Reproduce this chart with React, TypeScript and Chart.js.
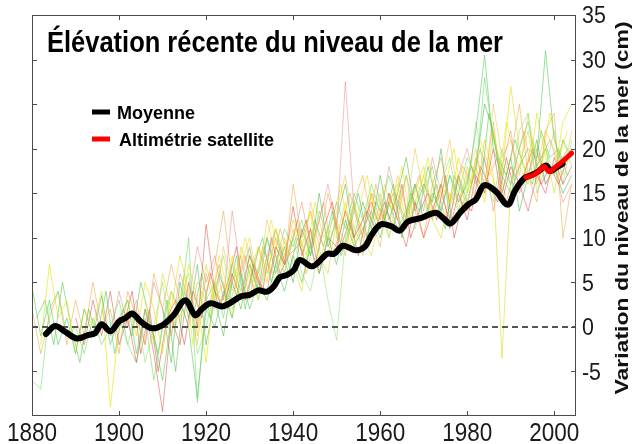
import React, { useEffect, useRef } from "react";
import { Chart, registerables } from "chart.js";

Chart.register(...registerables);

const xMin = 1880;
const xMax = 2005;
const yMin = -10;
const yMax = 35;

const xTickValues = [1880, 1900, 1920, 1940, 1960, 1980, 2000];
const xTickLabels = ["1880", "1900", "1920", "1940", "1960", "1980", "2000"];
const yTickValues = [-5, 0, 5, 10, 15, 20, 25, 30, 35];
const yTickLabels = ["-5", "0", "5", "10", "15", "20", "25", "30", "35"];

const titleText = "Élévation récente du niveau de la mer";
const yAxisTitle = "Variation du niveau de la mer (cm)";
const legendLabels = ["Moyenne", "Altimétrie satellite"];
const legendColors = ["#000000", "#ff0000"];

const zeroLevel = 0;

const meanYears = [1883.2, 1885.3, 1887.5, 1890.3, 1893, 1894.5, 1896, 1898, 1900, 1901.5, 1903, 1905, 1907.5, 1910, 1912.5, 1915.2, 1917.5, 1919, 1921, 1923.7, 1925.6, 1927.9, 1930, 1932, 1934, 1935.5, 1937, 1938.5, 1940.2, 1941.5, 1944.5, 1947.8, 1949.4, 1951.5, 1954.4, 1956.5, 1958, 1960.1, 1962.5, 1964.5, 1966.3, 1969.3, 1972.8, 1974.5, 1976.2, 1978.5, 1980.4, 1982, 1983.9, 1986.6, 1989.3, 1991, 1993.1, 1994.6, 1996.5, 1998.1, 1999.2, 2000.5, 2001.9];
const meanValues = [-0.8, 0.1, -0.5, -1.3, -0.9, -0.7, 0.3, -0.5, 0.6, 1.0, 1.5, 0.6, -0.15, 0.2, 1.3, 3.0, 1.3, 2.0, 2.65, 2.3, 2.7, 3.4, 3.6, 4.1, 3.95, 4.5, 5.6, 5.8, 6.4, 7.5, 6.8, 8.2, 8.2, 9.1, 8.6, 9.0, 10.3, 11.5, 11.3, 10.8, 11.8, 12.2, 12.8, 12.2, 11.6, 12.9, 13.8, 14.3, 15.9, 15.2, 13.7, 15.3, 16.7, 17.0, 17.5, 18.1, 17.5, 17.9, 18.3];

const satYears = [1993.5, 1995, 1996.5, 1997.7, 1998.8, 2000.2, 2001.5, 2002.7, 2004];
const satValues = [16.8, 17.0, 17.5, 18.0, 17.4, 17.9, 18.4, 18.9, 19.5];

const gaugeYears = [
  1880, 1882, 1884, 1886, 1888, 1890, 1892, 1894, 1896, 1898,
  1900, 1902, 1904, 1906, 1908, 1910, 1912, 1914, 1916, 1918,
  1920, 1922, 1924, 1926, 1928, 1930, 1932, 1934, 1936, 1938,
  1940, 1942, 1944, 1946, 1948, 1950, 1952, 1954, 1956, 1958,
  1960, 1962, 1964, 1966, 1968, 1970, 1972, 1974, 1976, 1978,
  1980, 1982, 1984, 1986, 1988, 1990, 1992, 1994, 1996, 1998,
  2000, 2002, 2004,
];

const gaugeYearsOdd = [
  1881, 1883, 1885, 1887, 1889, 1891, 1893, 1895, 1897, 1899,
  1901, 1903, 1905, 1907, 1909, 1911, 1913, 1915, 1917, 1919,
  1921, 1923, 1925, 1927, 1929, 1931, 1933, 1935, 1937, 1939,
  1941, 1943, 1945, 1947, 1949, 1951, 1953, 1955, 1957, 1959,
  1961, 1963, 1965, 1967, 1969, 1971, 1973, 1975, 1977, 1979,
  1981, 1983, 1985, 1987, 1989, 1991, 1993, 1995, 1997, 1999,
  2001, 2003,
];

const gaugeG1 = [
  4.5, -1, 3, -2, 1, -3, 2, -1, 3.5, -2,
  1, 3, -3, 2, -1, -6, 1, 3, 0, -8,
  2, 0, 4, 1, 6, 2, 5, 3, 7, 4,
  8, 5, 9, 6, 10, 7, 12, 9, 11, 13,
  10, 14, 11, 13, 16, 12, 15, 13, 17, 14,
  16, 22, 30.5, 20, 17, 15, 18, 20, 19, 31,
  21, 18, 20,
];
const gaugeG2 = [
  -6, -7, 2, 4, -1, 0, -3, 1, -2, 0,
  3, -2, -4, 1, -6, 0, 4, 2, 10, -8.5,
  3, 5, 1, 7, 4, 8, 6, 10, 7, 11,
  9, 12, 8, 13, 10, 14, 11, 15, 12, 16,
  13, 17, 14, 12, 16, 15, 18, 13, 17, 15,
  19, 17, 28, 21, 18, 16, 20, 23, 18, 20,
  17, 21, 19,
];
const gaugeG3 = [
  null, null, null, null, null, null, null, null, null, null,
  1, -2, 2, -4, 0, 5, -1, 3, 6, -3,
  0, 4, 8, 2, 5, 9, 3, 7, 11, 6,
  10, 6, 4, 9, 3, -1.5, 10, 14, 8, 12,
  15, 10, 13, 17, 11, 14, 12, 16, 19, 13,
  15, 23, 17, 14, 20, 16, 22, 24, 15, 18,
  22, 16, 21,
];
const gaugeG4 = [
  null, null, null, null, null, null, null, null, null, null,
  null, null, null, null, null, 2, -4, 5, 1, 7,
  -2, 3, -1, 5, 2, 7, 4, 10, 6, 9,
  5, 11, 8, 15, 9, 12, 16, 10, 14, 11,
  17, 12, 15, 19, 13, 16, 14, 20, 12, 17,
  14, 18, 25, 22, 15, 19, 13, 17, 21, 16,
  18, 15, 17,
];
const gaugeR1 = [
  null, null, null, null, null, 1, -2, 3, -1, 4,
  -2, 1, -4, 2, -3, -9.5, 1, -2, 5, 0,
  11.5, 4, 2, 6, 3, 8, 5, 4, 9, 7,
  13.5, 8, 11, 6, 10, 9, 13, 10, 12, 14,
  11, 15, 12, 9, 14, 10, 13, 16, 11, 15,
  12, 17, 15, 20, 14, 18, 16, 13, 17, 15,
  19, 16, 18,
];
const gaugeR2 = [
  null, null, null, null, null, null, null, null, 2, -1,
  4, 0, 3, -2, 5, 2, -1, 6, 3, 9,
  5, 8, 3, 13, 6, 9, 4, 8, 11, 7,
  10, 14, 9, 12, 16, 11, 27.5, 13, 10, 15,
  12, 18, 14, 11, 16, 13, 19, 15, 12, 17,
  20, 16, 19, 13, 18, 22, 15, 17, 20, 16,
  18, 14, 16,
];
const gaugeY1 = [
  null, -2, 7, 1, 3, -3, 2, 0, 4, -9,
  0, 3, -1, 5, 2, -3, 4, 1, 7, 3,
  -4, 5, 2, 8, 3, 6, 9, 5, 11, 8,
  12, 9, 13, 7, 11, 10, 14, 9, 12, 15,
  11, 14, 16, 12, 15, 18, 13, 16, 14, 19,
  15, 18, 14, 22, 17, 27, 20, 16, 24, 19,
  17, 23, 25,
];
const gaugeY2 = [
  null, null, null, null, null, null, null, null, null, null,
  null, null, null, 3, -2, 6, 2, 8, 4, -1,
  7, 3, 5, 1, 9, 6, 3, 8, 5, 10,
  7, 4, 11, 8, 6, 12, 9, 14, 10, 8,
  13, 10, 15, 11, 14, 17, 12, 10, 15, 13,
  18, 14, 21, 17, -3.5, 16, 18, 22, 16, 20,
  15, 21, 18,
];
const gaugeO1 = [
  2, -3, 1, 4, -2, 3, -1, 5, 0, 2,
  -3, 4, 1, -2, 6, 2, 7, 3, 0, 5,
  4, 7, 13, 5, 8, 3, 9, 6, 10, 7,
  16, 10, 13, 9, 15, 11, 8, 14, 17, 12,
  9, 15, 12, 17, 13, 10, 16, 19, 14, 17,
  13, 19, 16, 23, 15, 19, 25, 17, 14, 22,
  24, 10, 16,
];
const gaugeO2 = [
  null, null, null, null, null, null, null, null, null, null,
  null, null, null, null, null, null, null, null, 3, -2,
  6, 2, 9, 4, 7, 10, 5, 12, 8, 6,
  11, 7, 14, 10, 8, 13, 17, 11, 9, 15,
  14, 11, 17, 13, 20, 15, 12, 16, 21, 14,
  17, 20, 15, 25, 19, 21, 17, 24, 18, 22,
  20, 17, 22,
];

const gaugeH1 = [
  1, 3, -2, 5, 0, -4, 2, -1, 4, -3,
  2, -1, 5, 1, -3, 3, -5, 4, 1, 6,
  1, 6, 3, 8, 2, 7, 10, 5, 9, 6,
  10, 7, 12, 9, 13, 8, 11, 15, 10, 14,
  12, 16, 10, 15, 13, 18, 14, 11, 17, 15,
  18, 15, 24, 19, 17, 21, 18, 16, 22, 19,
  20, 17,
];
const gaugeH2 = [
  null, null, null, null, null, null, null, null, null, null,
  0, 4, -3, 2, -5, 1, 3, -2, 4, 1,
  6, 2, 5, 9, 3, 7, 4, 10, 6, 8,
  9, 12, 7, 11, 14, 9, 12, 8, 13, 11,
  14, 11, 16, 10, 13, 15, 12, 17, 10, 14,
  13, 18, 16, 14, 19, 15, 17, 20, 16, 18,
  16, 19,
];
const gaugeH3 = [
  null, null, null, null, null, null, null, null, null, null,
  null, null, null, null, null, 3, 0, 6, -2, 4,
  2, 8, 4, 6, 10, 5, 8, 12, 7, 9,
  11, 8, 14, 10, 12, 16, 9, 13, 17, 12,
  16, 13, 18, 12, 15, 19, 14, 16, 20, 13,
  17, 21, 18, 15, 23, 19, 17, 21, 18, 24,
  19, 22,
];
const gaugeH4 = [
  null, null, null, null, null, null, null, null, null, null,
  null, null, null, null, null, null, null, null, null, null,
  3, 7, 2, 5, 8, 4, 9, 6, 11, 8,
  12, 6, 10, 14, 8, 11, 15, 12, 10, 16,
  12, 15, 11, 14, 17, 13, 16, 12, 15, 18,
  16, 20, 17, 19, 14, 18, 22, 17, 19, 21,
  18, 20,
];

const gaugeSeries = [gaugeG1, gaugeR1, gaugeY1, gaugeG2, gaugeO1, gaugeG3, gaugeR2, gaugeY2, gaugeG4, gaugeO2];
const gaugeColors = [
  "rgba(90, 205, 90, 0.6)",
  "rgba(225, 70, 60, 0.5)",
  "rgba(230, 225, 0, 0.6)",
  "rgba(120, 220, 110, 0.6)",
  "rgba(240, 160, 50, 0.5)",
  "rgba(150, 230, 120, 0.6)",
  "rgba(235, 120, 110, 0.45)",
  "rgba(220, 220, 40, 0.6)",
  "rgba(60, 180, 60, 0.5)",
  "rgba(245, 190, 60, 0.5)",
];
const gaugeSeriesOdd = [gaugeH1, gaugeH2, gaugeH3, gaugeH4];
const gaugeColorsOdd = [
  "rgba(70, 200, 70, 0.55)",
  "rgba(215, 60, 50, 0.5)",
  "rgba(235, 230, 20, 0.6)",
  "rgba(240, 150, 40, 0.5)",
];

const FONT = "'Liberation Sans', Arial, Helvetica, sans-serif";

const decorPlugin = {
  id: "decor",
  afterDraw(chart: any) {
    const ctx = chart.ctx as CanvasRenderingContext2D;
    const xs = chart.scales.x;
    const ys = chart.scales.y;
    const { left, right, top, bottom } = chart.chartArea;
    ctx.save();

    ctx.strokeStyle = "#4a4a4a";
    ctx.lineWidth = 1;
    ctx.strokeRect(left + 0.5, top + 0.5, right - left - 1, bottom - top - 1);

    ctx.beginPath();
    xTickValues.forEach((v) => {
      const px = Math.round(xs.getPixelForValue(v)) + 0.5;
      ctx.moveTo(px, bottom);
      ctx.lineTo(px, bottom - 5);
      ctx.moveTo(px, top);
      ctx.lineTo(px, top + 5);
    });
    yTickValues.forEach((v) => {
      const py = Math.round(ys.getPixelForValue(v)) + 0.5;
      ctx.moveTo(left, py);
      ctx.lineTo(left + 5, py);
      ctx.moveTo(right, py);
      ctx.lineTo(right - 5, py);
    });
    ctx.stroke();

    ctx.fillStyle = "#1a1a1a";
    ctx.font = `25px ${FONT}`;
    ctx.textAlign = "center";
    ctx.textBaseline = "alphabetic";
    xTickValues.forEach((v, i) => {
      const px = xs.getPixelForValue(v);
      ctx.save();
      ctx.translate(px, 441);
      ctx.scale(0.9, 1);
      ctx.fillText(xTickLabels[i], 0, 0);
      ctx.restore();
    });

    ctx.font = `23px ${FONT}`;
    ctx.textAlign = "left";
    yTickValues.forEach((v, i) => {
      const py = ys.getPixelForValue(v);
      ctx.save();
      ctx.translate(right + 6, py + 8.2);
      ctx.scale(0.93, 1);
      ctx.fillText(yTickLabels[i], 0, 0);
      ctx.restore();
    });

    ctx.save();
    ctx.fillStyle = "#111111";
    ctx.font = `bold 23px ${FONT}`;
    ctx.textAlign = "center";
    ctx.translate(628, 208);
    ctx.scale(0.8, 1);
    ctx.rotate(-Math.PI / 2);
    ctx.fillText(yAxisTitle, 0, 0);
    ctx.restore();

    ctx.save();
    ctx.fillStyle = "#000000";
    ctx.font = `bold 29px ${FONT}`;
    ctx.textAlign = "left";
    const w = ctx.measureText(titleText).width;
    ctx.translate(47, 52);
    ctx.scale(456 / w, 1);
    ctx.fillText(titleText, 0, 0);
    ctx.restore();

    const legendY = [112, 139];
    const legendTextX = [117, 119];
    ctx.font = `bold 18px ${FONT}`;
    ctx.textAlign = "left";
    legendLabels.forEach((label, i) => {
      ctx.strokeStyle = legendColors[i];
      ctx.lineWidth = 5;
      ctx.lineCap = "butt";
      ctx.beginPath();
      ctx.moveTo(92, legendY[i]);
      ctx.lineTo(110, legendY[i]);
      ctx.stroke();
      ctx.fillStyle = "#000000";
      ctx.fillText(label, legendTextX[i], legendY[i] + 6.5);
    });

    ctx.restore();
  },
};

export default function App() {
  const canvasRef = useRef<HTMLCanvasElement | null>(null);

  useEffect(() => {
    const canvas = canvasRef.current;
    if (!canvas) return;

    const makeGauge = (years: number[], series: (number | null)[], color: string, key: string) => ({
      label: key,
      data: years.map((yr, i) => ({ x: yr, y: series[i] })),
      borderColor: color,
      borderWidth: 1,
      pointRadius: 0,
      tension: 0,
      spanGaps: false,
      order: 3,
    });

    const gaugeDatasets = [
      ...gaugeSeries.map((s, k) => makeGauge(gaugeYears, s, gaugeColors[k], `gauge${k}`)),
      ...gaugeSeriesOdd.map((s, k) => makeGauge(gaugeYearsOdd, s, gaugeColorsOdd[k], `gaugeOdd${k}`)),
    ];

    const chart = new Chart(canvas, {
      type: "line",
      data: {
        datasets: [
          {
            label: legendLabels[1],
            data: satYears.map((yr, i) => ({ x: yr, y: satValues[i] })),
            borderColor: "#ff0000",
            borderWidth: 5,
            pointRadius: 0,
            tension: 0.3,
            borderCapStyle: "round",
            borderJoinStyle: "round",
            order: 0,
          },
          {
            label: legendLabels[0],
            data: meanYears.map((yr, i) => ({ x: yr, y: meanValues[i] })),
            borderColor: "#000000",
            borderWidth: 6,
            pointRadius: 0,
            tension: 0.35,
            borderCapStyle: "round",
            borderJoinStyle: "round",
            order: 1,
          },
          {
            label: "zero",
            data: [
              { x: xMin, y: zeroLevel },
              { x: xMax, y: zeroLevel },
            ],
            borderColor: "#555555",
            borderWidth: 2,
            borderDash: [6, 4],
            pointRadius: 0,
            order: 2,
          },
          ...gaugeDatasets,
        ] as any,
      },
      options: {
        animation: false,
        responsive: false,
        maintainAspectRatio: false,
        devicePixelRatio: 1,
        layout: { padding: { left: 32, right: 64, top: 15, bottom: 28 } },
        plugins: {
          legend: { display: false },
          title: { display: false },
          tooltip: { enabled: false },
        },
        scales: {
          x: { type: "linear", min: xMin, max: xMax, display: false },
          y: { type: "linear", min: yMin, max: yMax, display: false, position: "right" },
        },
      },
      plugins: [decorPlugin],
    });

    return () => chart.destroy();
  }, []);

  return (
    <div style={{ position: "fixed", left: 0, top: 0, width: 640, height: 444, background: "#ffffff" }}>
      <canvas ref={canvasRef} width={640} height={444} style={{ display: "block" }} />
    </div>
  );
}
